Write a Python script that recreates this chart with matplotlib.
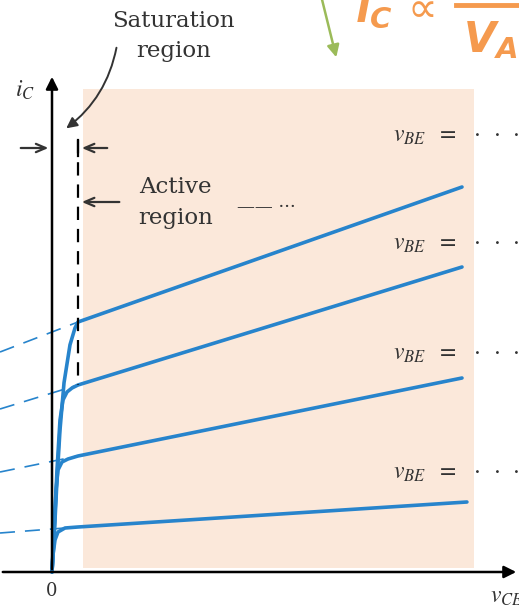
import matplotlib
matplotlib.use("Agg")
import matplotlib.pyplot as plt
from matplotlib.patches import Rectangle

plt.rcParams["font.family"] = ["DejaVu Serif"]
plt.rcParams["mathtext.fontset"] = "stix"

# i_C (mA) vs v_CE (V) characteristic curves, one per v_BE, top to bottom
v_sat = [
    [0, 0.049, 0.122, 0.195, 0.293, 0.439, 0.561, 0.634],
    [0, 0.049, 0.122, 0.195, 0.268, 0.366, 0.488, 0.634],
    [0, 0.049, 0.098, 0.146, 0.244, 0.390, 0.634],
    [0, 0.024, 0.073, 0.146, 0.317, 0.634],
]
i_sat = [
    [0, 0.8, 2.3, 3.55, 4.73, 5.68, 6.1, 6.25],
    [0, 0.925, 2.55, 3.8, 4.3, 4.5, 4.6, 4.675],
    [0, 1.05, 2.05, 2.55, 2.75, 2.825, 2.9],
    [0, 0.425, 0.8, 1.0, 1.1, 1.125],
]
v_end = [10.0, 10.0, 10.0, 10.12]
i_end = [9.625, 7.625, 4.85, 1.75]

# extrapolated (Early effect) lines, value at the left edge
v_left = -1.268
i_left = [5.5, 4.075, 2.5, 0.975]

# active region boundaries
v_edge = 0.634
active_v = (0.756, 10.29)
active_i = (0.1, 12.075)

blue = "#2784cc"
ink = "#333333"

fig = plt.figure(figsize=(5.19, 6.06), dpi=100)
ax = fig.add_axes([0, 0, 1, 1])
ax.set_xlim(-52 / 41, 467 / 41)
ax.set_ylim(-34 / 40, 572 / 40)
ax.axis("off")

ax.add_patch(Rectangle((active_v[0], active_i[0]), active_v[1] - active_v[0],
                       active_i[1] - active_i[0], color="#fbe8da", lw=0, zorder=0))

for k in range(4):
    vs = v_sat[k] + [v_end[k]]
    cs = i_sat[k] + [i_end[k]]
    ax.plot(vs, cs, color=blue, lw=2.6, solid_capstyle="round", zorder=3)
    ax.plot([v_left, v_sat[k][-1]], [i_left[k], i_sat[k][-1]], color=blue, lw=1.2,
            dashes=(9, 6), zorder=2)

# axes with arrow heads
ax.annotate("", xy=(467 / 41, 0), xytext=(v_left, 0),
            arrowprops=dict(arrowstyle="-|>", lw=1.8, color="black", mutation_scale=18))
ax.annotate("", xy=(0, 12.45), xytext=(0, 0),
            arrowprops=dict(arrowstyle="-|>", lw=1.8, color="black", mutation_scale=18))
ax.text(-0.66, 12.05, r"$i_C$", fontsize=17, ha="center", va="center", color=ink)
ax.text(0, -0.47, "0", fontsize=13, ha="center", va="center", color=ink)
ax.text(10.68, -0.62, r"$v_{CE}$", fontsize=17, ha="left", va="center", color=ink)

# saturation / active boundary
ax.plot([v_edge, v_edge], [10.8, 4.675], color="black", lw=1.6, dashes=(6, 4), zorder=4)
ax.plot([v_edge, v_edge], [10.8, 10.4], color="black", lw=1.6, zorder=4)
head = dict(arrowstyle="->,head_length=0.7,head_width=0.3", lw=1.6, color=ink)
ax.annotate("", xy=(-0.02, 10.6), xytext=(-0.83, 10.6), arrowprops=head)
ax.annotate("", xy=(0.66, 10.6), xytext=(1.415, 10.6), arrowprops=head)
ax.annotate("", xy=(0.66, 9.25), xytext=(1.71, 9.25), arrowprops=head)

ax.text(2.96, 13.625, "Saturation", fontsize=16.5, ha="center", va="baseline", color=ink)
ax.text(2.96, 12.875, "region", fontsize=16.5, ha="center", va="baseline", color=ink)
ax.annotate("", xy=(0.293, 11.05), xytext=(1.585, 13.175),
            arrowprops=dict(arrowstyle="-|>", lw=1.4, color=ink, mutation_scale=16,
                            connectionstyle="arc3,rad=-0.2"))
ax.text(3.02, 9.475, "Active", fontsize=16.5, ha="center", va="baseline", color=ink)
ax.text(3.02, 8.7, "region", fontsize=16.5, ha="center", va="baseline", color=ink)
ax.text(4.51, 9.125, "—— ···", fontsize=13, ha="left", va="center", color=ink)

# v_BE labels
for y in [10.925, 8.225, 5.475, 2.5]:
    ax.text(8.32, y, r"$v_{BE}\ \ =\ \ \cdot\ \cdot\ \cdot\ \cdot$",
            fontsize=17, ha="left", va="center", color=ink)

# Early-voltage note
orange = "#f59a4e"
ax.text(7.39, 13.75, r"$\mathbfit{i}_{\mathbfit{C}}\,\propto$", fontsize=30,
        ha="left", va="baseline", color=orange, math_fontfamily="dejavusans")
ax.plot([9.85, 11.5], [14.18, 14.18], color=orange, lw=3.5, clip_on=False)
ax.text(10.02, 13.3, r"$\mathbfit{V}_{\mathbfit{A}}$", fontsize=30, ha="left",
        va="center", color=orange, math_fontfamily="dejavusans")
ax.annotate("", xy=(6.95, 12.8), xytext=(6.54, 14.5),
            arrowprops=dict(arrowstyle="-|>", lw=1.8, color="#9bbb59", mutation_scale=18))

fig.savefig("out.png", dpi=100)
